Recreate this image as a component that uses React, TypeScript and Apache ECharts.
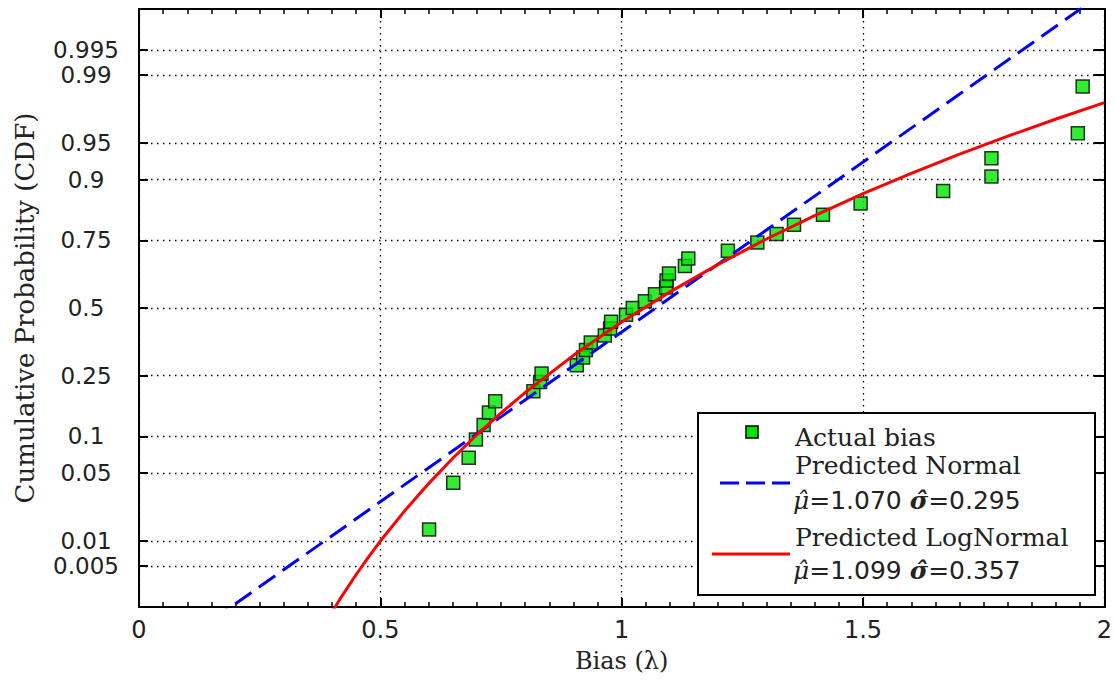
import React, { useEffect, useRef } from "react";
import * as echarts from "echarts";

// Probability tick marks (y axis, normal probability scale)
const tickProbs = [0.005, 0.01, 0.05, 0.1, 0.25, 0.5, 0.75, 0.9, 0.95, 0.99, 0.995];
const tickLabels = ["0.005", "0.01", "0.05", "0.1", "0.25", "0.5", "0.75", "0.9", "0.95", "0.99", "0.995"];

// Actual bias observations (x) with their cumulative probabilities (y)
const biasValues = [
  0.601, 0.651, 0.683, 0.698, 0.714, 0.725, 0.738, 0.817, 0.831, 0.834,
  0.907, 0.92, 0.926, 0.936, 0.965, 0.976, 0.978, 1.009, 1.023, 1.048,
  1.069, 1.092, 1.093, 1.098, 1.131, 1.138, 1.22, 1.281, 1.321, 1.357,
  1.417, 1.495, 1.666, 1.766, 1.766, 1.945, 1.955,
];
const cdfValues = [
  0.0135, 0.0405, 0.0676, 0.0946, 0.1216, 0.1486, 0.1757, 0.2027, 0.2297, 0.2568,
  0.2838, 0.3108, 0.3378, 0.3649, 0.3919, 0.4189, 0.4459, 0.473, 0.5, 0.527,
  0.5541, 0.5811, 0.6081, 0.6351, 0.6622, 0.6892, 0.7162, 0.7432, 0.7703, 0.7973,
  0.8243, 0.8514, 0.8784, 0.9054, 0.9324, 0.9595, 0.9865,
];

// Predicted Normal line (read at its ends)
const normalBias = [0.15, 1.97];
const normalCdf = [0.0009, 0.99886];

// Predicted LogNormal curve
const logNormalBias = [0.4, 0.42, 0.45, 0.475, 0.5, 0.55, 0.6, 0.65, 0.7, 0.75, 0.8, 0.9, 1.0, 1.1, 1.2, 1.3, 1.4, 1.5, 1.6, 1.7, 1.8, 1.9, 2.0];
const logNormalCdf = [0.0012, 0.002, 0.0039, 0.0064, 0.01, 0.0213, 0.0398, 0.0668, 0.1028, 0.1473, 0.1993, 0.3183, 0.4445, 0.564, 0.6685, 0.7545, 0.822, 0.873, 0.9105, 0.9377, 0.9569, 0.9704, 0.9798];

// Inverse standard normal CDF (axis transform for the probability scale)
function probit(p: number): number {
  const a = [-39.69683028665376, 220.9460984245205, -275.9285104469687, 138.357751867269, -30.66479806614716, 2.506628277459239];
  const b = [-54.47609879822406, 161.5858368580409, -155.6989798598866, 66.80131188771972, -13.28068155288572];
  const c = [-0.007784894002430293, -0.3223964580411365, -2.400758277161838, -2.549732539343734, 4.374664141464968, 2.938163982698783];
  const d = [0.007784695709041462, 0.3224671290700398, 2.445134137142996, 3.754408661907416];
  const pl = 0.02425;
  const ph = 1 - pl;
  let q: number, r: number;
  if (p < pl) {
    q = Math.sqrt(-2 * Math.log(p));
    return (((((c[0] * q + c[1]) * q + c[2]) * q + c[3]) * q + c[4]) * q + c[5]) / ((((d[0] * q + d[1]) * q + d[2]) * q + d[3]) * q + 1);
  }
  if (p <= ph) {
    q = p - 0.5;
    r = q * q;
    return ((((((a[0] * r + a[1]) * r + a[2]) * r + a[3]) * r + a[4]) * r + a[5]) * q) / (((((b[0] * r + b[1]) * r + b[2]) * r + b[3]) * r + b[4]) * r + 1);
  }
  q = Math.sqrt(-2 * Math.log(1 - p));
  return -(((((c[0] * q + c[1]) * q + c[2]) * q + c[3]) * q + c[4]) * q + c[5]) / ((((d[0] * q + d[1]) * q + d[2]) * q + d[3]) * q + 1);
}

const Z_MIN = -2.985;
const Z_MAX = 2.985;

export default function App() {
  const ref = useRef<HTMLDivElement>(null);

  useEffect(() => {
    if (!ref.current) return;
    const chart = echarts.init(ref.current, null, { renderer: "svg" });
    const zTicks = tickProbs.map(probit);
    const labelFor = (v: number) => {
      let best = 0;
      for (let i = 0; i < zTicks.length; i++) {
        if (Math.abs(zTicks[i] - v) < Math.abs(zTicks[best] - v)) best = i;
      }
      return tickLabels[best];
    };
    const dotted = { type: [1.5, 4.5] as any, color: "#000", width: 1.3 };
    const tickFont = { fontFamily: "DejaVu Sans", fontSize: 23, color: "#222" };
    const serif = "DejaVu Serif";
    const axisLineStyle = { show: true, onZero: false, lineStyle: { color: "#000", width: 2 } };

    chart.setOption({
      animation: false,
      backgroundColor: "#fff",
      grid: { left: 139, right: 9, top: 9, bottom: 79, containLabel: false },
      xAxis: [
        {
          type: "value",
          min: 0,
          max: 2,
          interval: 0.5,
          position: "bottom",
          axisLine: axisLineStyle,
          axisTick: { show: true, inside: true, length: 9, lineStyle: { color: "#000", width: 2 } },
          minorTick: { show: true, splitNumber: 10, length: 5, lineStyle: { color: "#000", width: 1.5 } },
          axisLabel: { ...tickFont, fontSize: 24, margin: 11 },
          splitLine: { show: true, lineStyle: dotted },
          name: "Bias (λ)",
          nameLocation: "middle",
          nameGap: 42,
          nameTextStyle: { fontFamily: serif, fontSize: 24, color: "#222" },
        },
        {
          type: "value",
          min: 0,
          max: 2,
          interval: 0.5,
          position: "top",
          axisLine: axisLineStyle,
          axisTick: { show: true, inside: true, length: 9, lineStyle: { color: "#000", width: 2 } },
          minorTick: { show: true, splitNumber: 10, length: 5, lineStyle: { color: "#000", width: 1.5 } },
          axisLabel: { show: false },
          splitLine: { show: false },
        },
      ],
      yAxis: [
        {
          type: "value",
          min: Z_MIN,
          max: Z_MAX,
          position: "left",
          axisLine: axisLineStyle,
          axisTick: { show: true, inside: true, length: 9, customValues: zTicks, lineStyle: { color: "#000", width: 2 } },
          axisLabel: {
            ...tickFont,
            lineHeight: 21,
            customValues: zTicks,
            formatter: (v: number) => labelFor(v),
            align: "center",
            margin: 53,
          },
          splitLine: { show: true, lineStyle: dotted },
          name: "Cumulative Probability (CDF)",
          nameLocation: "middle",
          nameGap: 101,
          nameTextStyle: { fontFamily: serif, fontSize: 26, color: "#222" },
        },
        {
          type: "value",
          min: Z_MIN,
          max: Z_MAX,
          position: "right",
          axisLine: axisLineStyle,
          axisTick: { show: true, inside: true, length: 11, customValues: zTicks, lineStyle: { color: "#000", width: 2 } },
          axisLabel: { show: false },
          splitLine: { show: false },
        },
      ],
      series: [
        {
          name: "Actual bias",
          type: "scatter",
          z: 2,
          symbol: "rect",
          symbolSize: 13,
          itemStyle: { color: "#00e600", borderColor: "#000", borderWidth: 1.5 },
          data: biasValues.map((b, i) => [b, probit(cdfValues[i])]),
        },
        {
          name: "Predicted Normal",
          type: "line",
          z: 3,
          showSymbol: false,
          clip: true,
          lineStyle: { color: "#0000ff", width: 3, type: [20, 9] as any },
          data: normalBias.map((b, i) => [b, probit(normalCdf[i])]),
        },
        {
          name: "Predicted LogNormal",
          type: "line",
          z: 4,
          showSymbol: false,
          clip: true,
          lineStyle: { color: "#ff0000", width: 3 },
          data: logNormalBias.map((b, i) => [b, probit(logNormalCdf[i])]),
        },
      ],
      graphic: [
        {
          type: "rect",
          z: 100,
          shape: { x: 698, y: 413, width: 397, height: 182 },
          style: { fill: "#fff", stroke: "#000", lineWidth: 2 },
        },
        {
          type: "rect",
          z: 101,
          shape: { x: 746, y: 426, width: 12, height: 12 },
          style: { fill: "#00e600", stroke: "#000", lineWidth: 1.5 },
        },
        {
          type: "line",
          z: 101,
          shape: { x1: 720, y1: 483, x2: 790, y2: 483 },
          style: { stroke: "#0000ff", lineWidth: 3, lineDash: [19, 7] },
        },
        {
          type: "line",
          z: 101,
          shape: { x1: 712, y1: 554, x2: 790, y2: 554 },
          style: { stroke: "#ff0000", lineWidth: 3 },
        },
        {
          type: "text",
          z: 101,
          x: 795,
          y: 437,
          style: { text: "Actual bias", fontFamily: serif, fontSize: 25, fill: "#222", verticalAlign: "middle" },
        },
        {
          type: "text",
          z: 101,
          x: 795,
          y: 465,
          style: { text: "Predicted Normal", fontFamily: serif, fontSize: 25, fill: "#222", verticalAlign: "middle" },
        },
        {
          type: "text",
          z: 101,
          x: 793,
          y: 500,
          style: {
            text: "{m|μ\u0302}{n|=1.070 }{s|σ\u0302}{n|=0.295}",
            verticalAlign: "middle",
            rich: {
              m: { fontFamily: serif, fontStyle: "italic", fontSize: 25, fill: "#222" },
              s: { fontFamily: serif, fontStyle: "italic", fontWeight: "bold", fontSize: 25, fill: "#222" },
              n: { fontFamily: "DejaVu Sans", fontSize: 25, fill: "#222" },
            },
          },
        },
        {
          type: "text",
          z: 101,
          x: 795,
          y: 537,
          style: { text: "Predicted LogNormal", fontFamily: serif, fontSize: 25, fill: "#222", verticalAlign: "middle" },
        },
        {
          type: "text",
          z: 101,
          x: 793,
          y: 570,
          style: {
            text: "{m|μ\u0302}{n|=1.099 }{s|σ\u0302}{n|=0.357}",
            verticalAlign: "middle",
            rich: {
              m: { fontFamily: serif, fontStyle: "italic", fontSize: 25, fill: "#222" },
              s: { fontFamily: serif, fontStyle: "italic", fontWeight: "bold", fontSize: 25, fill: "#222" },
              n: { fontFamily: "DejaVu Sans", fontSize: 25, fill: "#222" },
            },
          },
        },
      ],
    });
    return () => chart.dispose();
  }, []);

  return (
    <div
      ref={ref}
      style={{ position: "fixed", left: 0, top: 0, width: 1115, height: 686, background: "#fff" }}
    />
  );
}
